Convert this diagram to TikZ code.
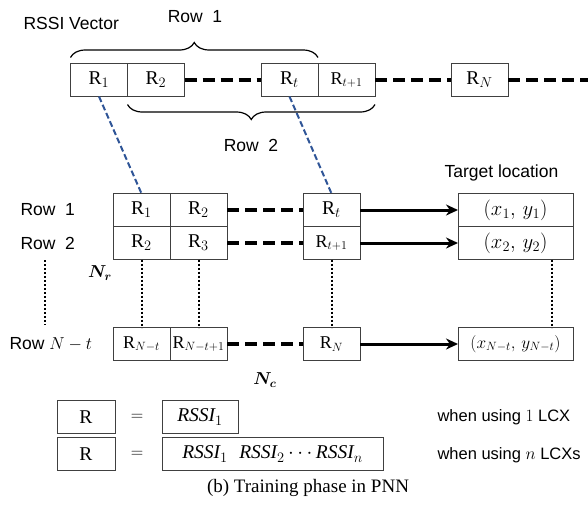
\documentclass[tikz,border=0pt]{standalone}
\usepackage{amsmath,bm}
\usepackage{fontspec}
\setmainfont{Liberation Serif}
\setsansfont{Liberation Sans}
\usepackage{tikz}
\usetikzlibrary{
  arrows.meta,
  decorations.pathreplacing,
  positioning}
\definecolor{linkblue}{HTML}{2F5597}

\begin{document}
\begin{tikzpicture}[x=1pt,y=-1pt,
  cell/.style={draw=black!75,line width=1pt,minimum width=57pt,minimum height=33pt,
    inner sep=0pt,outer sep=0pt,font=\fontsize{19.5}{19.5}\selectfont},
  small/.style={font=\fontsize{18}{18}\selectfont},
  lbl/.style={font=\sffamily\fontsize{17.5}{20}\selectfont},
  gap/.style={line width=4pt,dash pattern=on 12pt off 6pt},
  link/.style={linkblue,line width=2pt,dash pattern=on 6pt off 3pt},
  dots/.style={line width=2pt,dash pattern=on 2pt off 2pt},
  arr/.style={line width=3pt,-{Stealth[length=12pt,width=11pt]}},
  brc/.style={line width=1.2pt,decorate,decoration={brace,amplitude=15pt}}]
\useasboundingbox (0,0) rectangle (588,506);

\node[cell] (v1) at (99,80) {$\mathrm{R}_1$};
\node[cell,right=0pt of v1] (v2) {$\mathrm{R}_2$};
\node[cell] (vt) at (289.5,80) {$\mathrm{R}_t$};
\node[cell,small,right=0pt of vt] (vt1) {$\mathrm{R}_{t+1}$};
\node[cell] (vN) at (479.5,80) {$\mathrm{R}_N$};
\coordinate (vend) at (588,80);
\draw[gap] (v2.east) -- (vt.west);
\draw[gap] (vt1.east) -- (vN.west);
\draw[gap] (vN.east) -- (vend);

\node[lbl,anchor=west] (vec) at (20,23) {RSSI Vector};
\draw[brc] ([yshift=6pt]v1.north west) -- ([yshift=6pt]vt.north east);
\node[lbl] (top) at (195,17) {Row\ \ 1};
\draw[brc] ([yshift=-8pt]vt1.south east) -- ([yshift=-8pt]v2.south west);
\node[lbl] (bot) at (251,145) {Row\ \ 2};

\node[cell] (a11) at (141.5,210) {$\mathrm{R}_1$};
\node[cell,right=0pt of a11] (a12) {$\mathrm{R}_2$};
\node[cell] (a1t) at (331.5,210) {$\mathrm{R}_t$};
\node[cell,below=0pt of a11] (a21) {$\mathrm{R}_2$};
\node[cell,right=0pt of a21] (a22) {$\mathrm{R}_3$};
\node[cell,small,below=0pt of a1t] (a2t) {$\mathrm{R}_{t+1}$};
\node[cell,small] (an1) at (141.5,344) {$\mathrm{R}_{N-t}$};
\node[cell,small,right=0pt of an1] (an2) {$\mathrm{R}_{N-t+1}$};
\node[cell,small] (anN) at (331.5,344) {$\mathrm{R}_N$};
\draw[gap] (a12.east) -- (a1t.west);
\draw[gap] (a22.east) -- (a2t.west);
\draw[gap] (an2.east) -- (anN.west);

\node[cell,minimum width=115pt] (t1) at (515.5,210) {$(x_1,\,y_1)$};
\node[cell,minimum width=115pt,below=0pt of t1] (t2) {$(x_2,\,y_2)$};
\node[cell,small,minimum width=115pt] (tn) at (515.5,344) {$(x_{N-t},\,y_{N-t})$};
\node[lbl,anchor=west] (tgt) at (441,173) {Target location};
\draw[arr] (a1t.east) -- (t1.west);
\draw[arr] (a2t.east) -- (t2.west);
\draw[arr] (anN.east) -- (tn.west);

\draw[link] (v1.south) -- (a11.north);
\draw[link] (vt.south) -- (a1t.north);
\draw[dots] (a21.south) -- (an1.north);
\draw[dots] (a22.south) -- (an2.north);
\draw[dots] (a2t.south) -- (anN.north);
\draw[dots] ([xshift=36pt]t2.south) -- ([xshift=36pt]tn.north);

\node[lbl,anchor=west] (r1lbl) at (17,210) {Row\ \ 1};
\node[lbl,anchor=west] (r2lbl) at (17,243) {Row\ \ 2};
\node[lbl,anchor=west] (rnlbl) at (6,344) {Row $N-t$};
\coordinate (d1) at (45,260);
\coordinate (d2) at (45,325);
\draw[dots] (d1) -- (d2);
\node[font=\fontsize{18}{18}\selectfont] (nr) at (100,273) {$\bm{N_r}$};
\node[font=\fontsize{18}{18}\selectfont] (nc) at (265,380) {$\bm{N_c}$};

\node[cell,minimum width=58pt] (r1) at (86,417) {R};
\node[font=\fontsize{19}{19}\selectfont] (eq1) at (137,417) {$=$};
\node[cell,minimum width=76pt] (s1) at (200,417) {$\mathit{RSSI}_1$};
\node[cell,minimum width=58pt] (r2) at (86,454) {R};
\node[font=\fontsize{19}{19}\selectfont] (eq2) at (137,454) {$=$};
\node[cell,minimum width=221pt] (s2) at (272.5,454) {$\mathit{RSSI}_1\;\;\mathit{RSSI}_2\cdots\mathit{RSSI}_n$};
\node[lbl,font=\sffamily\fontsize{16.5}{20}\selectfont,anchor=west] (w1) at (434,417) {when using $1$ LCX};
\node[lbl,font=\sffamily\fontsize{16.5}{20}\selectfont,anchor=west] (w2) at (434,455) {when using $n$ LCXs};

\node[font=\rmfamily\fontsize{19}{19}\selectfont] (cap) at (308,488) {(b) Training phase in PNN};
\end{tikzpicture}
\end{document}
